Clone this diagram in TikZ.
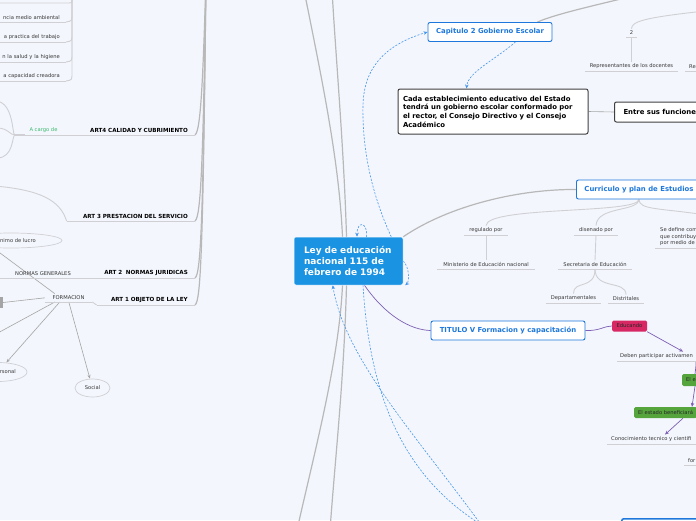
\documentclass[tikz,border=0pt]{standalone}
\usepackage{fontspec}
\setmainfont{DejaVu Sans}
\usepackage{tikz}
\usetikzlibrary{
    positioning,
    arrows.meta,
    shapes.geometric,
    calc,
}
\definecolor{paper}{RGB}{243,246,253}
\definecolor{hubblue}{RGB}{27,147,227}
\definecolor{topicblue}{RGB}{30,120,220}
\definecolor{branchgray}{RGB}{184,184,184}
\definecolor{twiggray}{RGB}{208,208,212}
\definecolor{leafgray}{RGB}{55,55,55}
\definecolor{dashblue}{RGB}{70,150,235}
\definecolor{linkpurple}{RGB}{125,95,180}
\definecolor{tagpink}{RGB}{215,40,100}
\definecolor{taggreen}{RGB}{85,165,60}
\definecolor{cargogreen}{RGB}{60,185,110}
\definecolor{arrowgray}{RGB}{165,165,165}

\newcommand\leaffont{\fontsize{5.2}{6.4}\selectfont}
\newcommand\artfont{\fontsize{5.6}{6.6}\selectfont\bfseries}
\newcommand\topicfont{\fontsize{6.9}{8.7}\selectfont\bfseries}
\newcommand\hubfont{\fontsize{9}{10.7}\selectfont\bfseries}

\pgfdeclarelayer{paperlayer}
\pgfdeclarelayer{linklayer}
\pgfsetlayers{paperlayer,linklayer,main}

\tikzset{
    % Node styles
    hub/.style={rectangle, rounded corners=2pt, draw=white, line width=0.5pt, fill=hubblue,
                text=white, font=\hubfont, align=left, text width=89pt, inner xsep=10pt,
                minimum width=109pt, minimum height=48pt},
    topic/.style={rectangle, rounded corners=2pt, draw=topicblue, line width=0.9pt, fill=white,
                  text=topicblue, font=\topicfont, minimum height=19pt, inner xsep=8pt},
    statement/.style={rectangle, rounded corners=2pt, draw=black!75, line width=1pt, fill=white,
                      text=black, font=\topicfont, align=left},
    leaf/.style={font=\leaffont, text=leafgray, inner xsep=3pt, inner ysep=2pt},
    underlined/.style={leaf, append after command={(\tikzlastnode.south west) edge[uline] (\tikzlastnode.south east)}},
    art/.style={underlined, font=\artfont, text=black, align=right, inner xsep=7pt},
    tag/.style={rectangle, rounded corners=1.5pt, font=\leaffont, text=black!85,
                minimum height=11pt, inner ysep=0pt, inner xsep=4pt},
    oval/.style={ellipse, draw=twiggray, line width=0.7pt, font=\leaffont, text=leafgray, inner sep=0pt},
    % Line styles
    branch/.style={draw=branchgray, line width=1.2pt},
    twig/.style={draw=twiggray, line width=0.9pt},
    uline/.style={draw=twiggray, line width=0.9pt},
    crosslink/.style={draw=dashblue, line width=0.6pt, dash pattern=on 2pt off 1.5pt,
                      -{Stealth[length=4pt,width=3.5pt]}},
    flow/.style={draw=linkpurple, line width=0.7pt},
    flow arrow/.style={flow, -{Stealth[length=4pt,width=3.5pt]}},
    spoke/.style={draw=arrowgray, line width=0.6pt},
    spoke arrow/.style={spoke, -{Stealth[length=4pt,width=3pt]}},
}

\begin{document}
\begin{tikzpicture}[x=1pt, y=-1pt]
    \begin{pgfonlayer}{paperlayer}
        \fill[paper] (0,0) rectangle (696,520);
    \end{pgfonlayer}
    \useasboundingbox (0,0) rectangle (696,520);
    \clip (0,0) rectangle (696,520);

    % Centre
    \node[hub] (ley) at (348.5,261) {Ley de educación\\nacional 115 de\\febrero de 1994};

    % Capitulo 2
    \node[topic, minimum width=124pt] (cap) at (490,32) {Capitulo 2 Gobierno Escolar};
    \node[statement, text width=180pt, inner xsep=5pt, minimum height=45pt] (cada) at (493,111.5)
        {Cada establecimiento educativo del Estado\\tendrá un gobierno escolar conformado por\\el rector, el Consejo Directivo y el Consejo\\Académico};
    \node[statement, anchor=west, minimum height=20pt, inner xsep=9pt] (entre) at (614,112) {Entre sus funcione};
    \node[underlined, anchor=south, minimum width=11pt] (two) at (631.5,37) {2};
    \node[underlined, anchor=south, minimum width=93pt] (repdoc) at (631.5,71) {Representantes de los docentes};
    \node[underlined, anchor=south west, inner xsep=4pt] (repotro) at (685,71) {Re};

    % Curriculo
    \node[topic, anchor=west] (curr) at (576,189.5) {Curriculo y plan de Estudios};
    \node[underlined, anchor=south, minimum width=44pt] (regul) at (486,235) {regulado por};
    \node[underlined, anchor=south, minimum width=98pt] (minis) at (486,269) {Ministerio de Educación nacional};
    \node[underlined, anchor=south, minimum width=44pt] (disen) at (596,235) {disenado por};
    \node[underlined, anchor=south, minimum width=74pt] (secre) at (595,269) {Secretaria de Educación};
    \node[underlined, anchor=south, minimum width=55pt] (depto) at (573.5,303) {Departamentales};
    \node[underlined, anchor=south, minimum width=36pt] (distr) at (626,303) {Distritales};
    \node[underlined, anchor=south west, align=left, inner xsep=5pt] (sedef) at (655,248)
        {Se define com\\que contribuy\\por medio de};

    % Titulo V
    \node[topic, minimum width=154pt] (tit5) at (508,330.5) {TITULO V Formacion y capacitación};
    \node[tag, fill=tagpink, minimum width=35pt] (educ) at (629.5,326) {Educando};
    \node[underlined, anchor=south west] (deben) at (617,361) {Deben participar activamen};
    \node[tag, fill=taggreen, anchor=west, minimum height=12pt] (estud) at (682,380) {El e};
    \node[tag, fill=taggreen, anchor=west] (benef) at (634,412.5) {El estado beneficiará};
    \node[underlined, anchor=south west, inner xsep=4pt] (conoc) at (607,444) {Conocimiento tecnico y cientifi};
    \node[underlined, anchor=south west, inner xsep=4pt] (forma) at (684,465) {for};
    \node[topic, anchor=north west, minimum width=90pt, minimum height=20pt, line width=1.5pt] (lowbox) at (621,518) {};

    % Left: upper leaves
    \node[underlined, anchor=south east, text width=70pt, align=right, inner xsep=6pt] (ambien) at (66,22) {ncia medio ambiental};
    \node[underlined, anchor=south east, text width=70pt, align=right, inner xsep=6pt] (practi) at (66,42) {a practica del trabajo};
    \node[underlined, anchor=south east, text width=70pt, align=right, inner xsep=6pt] (salud) at (66,62) {n la salud y la higiene};
    \node[underlined, anchor=south east, text width=70pt, align=right, inner xsep=6pt] (creado) at (66,81) {a capacidad creadora};

    % Left: articulos
    \node[underlined, anchor=south, minimum width=37pt, text=cargogreen] (cargo) at (43.5,135) {A cargo de};
    \node[art, anchor=south east, text width=119pt] (art4) at (195,135) {ART4 CALIDAD Y CUBRIMIENTO};
    \node[art, anchor=south east, text width=114pt] (art3) at (195,221) {ART 3 PRESTACION DEL SERVICIO};
    \node[oval, minimum width=102pt, minimum height=15pt] (lucro) at (11,240.5) {};
    \node[leaf, anchor=west] (lucrotxt) at (-3,240.5) {nimo de lucro};
    \node[underlined, anchor=south east, text width=80pt, align=right, inner xsep=6pt] (normgen) at (77,278) {NORMAS GENERALES};
    \node[art, anchor=south east, text width=104pt] (art2) at (195,278) {ART 2\ \ NORMAS JURIDICAS};
    \node[underlined, anchor=south, minimum width=47pt] (formac) at (68.5,302) {FORMACION};
    \node[art, anchor=south east, text width=84pt] (art1) at (195,305) {ART 1 OBJETO DE LA LEY};
    \node[rectangle, fill=arrowgray, minimum width=4pt, minimum height=11pt, inner sep=0pt, anchor=east] (sidebar) at (3,302.5) {};
    \node[oval, minimum width=58pt, minimum height=19pt] (person) at (-2,372) {};
    \node[leaf, anchor=east] (persontxt) at (19,372) {rsonal};
    \node[oval, minimum width=35pt, minimum height=18pt] (social) at (92.5,388) {Social};

    % Off-picture ends
    \coordinate (upA) at (304,-10);
    \coordinate (upB) at (332,-10);
    \coordinate (downA) at (297,530);
    \coordinate (downB) at (330,530);
    \coordinate (capparent) at (665,-12);
    \coordinate (twoparent) at (705,11);
    \coordinate (sedeflink) at (706,215);
    \coordinate (lowtopic) at (485,530);
    \coordinate (lowtopicb) at (490,530);
    \coordinate (leftparent) at (72,-15);
    \coordinate (topleaf) at (66,3);
    \coordinate (artparent) at (206,-20);
    \coordinate (art3kid) at (-5,186);
    \coordinate (lucrolink) at (-4,250);
    \coordinate (lowleft) at (-4,334);

    \begin{pgfonlayer}{linklayer}
        \clip (0,0) rectangle (696,520);
        % centre branches
        \draw[branch] ($(ley.north)+(-6,0)$) .. controls (339,160) and (322,80) .. (upA);
        \draw[branch] ($(ley.north)+(-2,0)$) .. controls (344,150) and (336,60) .. (upB);
        \draw[branch] ($(ley.south)+(-6,0)$) .. controls (339,360) and (315,450) .. (downA);
        \draw[branch] ($(ley.south)+(-2,0)$) .. controls (344,380) and (335,460) .. (downB);
        \draw[branch] (ley.north east) .. controls (450,205) and (520,189) .. (curr.west);
        \draw[branch] ($(cap.north east)+(-15,0)$) .. controls (560,12) and (620,0) .. (capparent);

        % crosslinks
        \draw[crosslink] ($(ley.north east)+(-12,0)$) .. controls (372,195) and (362,150) .. (363,105)
            .. controls (364,60) and (395,42) .. (cap.west);
        \draw[crosslink] ($(ley.north)+(18,0)$) .. controls (368,222) and (357,220) .. ($(ley.north)+(8.5,0)$);
        \draw[crosslink] (ley.east) .. controls (410,268) and (409,282) .. ($(ley.south east)+(2,0)$);
        \draw[crosslink] ($(cap.south east)+(-37,0)$) .. controls (495,60) and (468,72) .. ($(cada.north west)+(69,0)$);
        \draw[crosslink] (lowtopic) .. controls (420,440) and (345,360) .. ($(ley.south west)+(39,0)$);
        \draw[crosslink] ($(ley.south)+(14.5,0)$) .. controls (370,400) and (405,480) .. (lowtopicb);

        % capitulo 2
        \draw[spoke] (cada.east) -- (entre.west);
        \draw[twig] (two.north) .. controls (632,22) and (640,18) .. (twoparent);
        \draw[twig] (two.south) -- (repdoc.north);

        % curriculo
        \draw[twig] (curr.south) .. controls (638,214) and (487,206) .. (regul.north);
        \draw[twig] (curr.south) .. controls (638,212) and (597,206) .. (disen.north);
        \draw[twig] (curr.south) .. controls (639,210) and (660,208) .. (sedeflink);
        \draw[twig] (regul.south) -- (minis.north);
        \draw[twig] (disen.south) -- (secre.north);
        \draw[twig] (secre.south) .. controls (595,290) and (573,280) .. (depto.north);
        \draw[twig] (secre.south) .. controls (595,290) and (626,280) .. (distr.north);

        % titulo V
        \draw[flow] ($(ley.south)+(16,0)$) .. controls (385,315) and (410,330) .. (tit5.west);
        \draw[flow] (tit5.east) .. controls (600,331) and (604,326) .. (educ.west);
        \draw[flow arrow] (educ.south east) -- ($(deben.north west)+(66,0)$);
        \draw[flow] ($(deben.south west)+(79,0)$) .. controls (696,366) .. ($(estud.north west)+(13,0)$);
        \draw[flow arrow] ($(estud.south west)+(13,0)$) -- ($(benef.north west)+(58,0)$);
        \draw[flow arrow] ($(benef.south west)+(49,0)$) -- ($(conoc.north west)+(58,0)$);

        % left leaves
        \draw[twig] (leftparent) -- ($(topleaf)+(6,-3)$) .. controls ($(topleaf)+(6,0)$) .. (topleaf) -- ++(-75,0);
        \foreach \leafname in {ambien,practi,salud,creado}
            \draw[twig] (leftparent) -- ($(\leafname.south east)+(6,-8)$)
                .. controls ($(\leafname.south east)+(6,-1)$) .. (\leafname.south east);

        % articulos
        \foreach \artname in {art4,art3,art2,art1}
            \draw[branch] (artparent) .. controls ($(\artname.south east)+(8,-60)$)
                and ($(\artname.south east)+(6,-4)$) .. (\artname.south east);
        \draw[line width=1.6pt, draw=twiggray] (cargo.south west) -- ++(-10,0) coordinate (cargojoin);
        \draw[twig] (cargojoin) .. controls (12,135) and (14,104) .. (-3,101);
        \draw[twig] (cargojoin) .. controls (10,135) and (8,128) .. (-3,128);
        \draw[twig] (cargojoin) .. controls (12,135) and (14,158) .. (-3,158);
        \draw[twig] (art3.south west) .. controls (60,200) and (40,190) .. (art3kid);
        \draw[uline] (formac.south east) .. controls (95,302) and (94,305) .. (art1.south west);

        % formacion
        \draw[spoke] ($(formac.north west)+(10,0)$) -- (lucrolink);
        \draw[spoke] (formac.west) -- (sidebar.east);
        \draw[spoke] ($(formac.south west)+(10,0)$) -- (lowleft);
        \draw[spoke arrow] ($(formac.south west)+(15,0)$) -- (person);
        \draw[spoke arrow] ($(formac.south west)+(24,0)$) -- (social);
    \end{pgfonlayer}
\end{tikzpicture}
\end{document}
